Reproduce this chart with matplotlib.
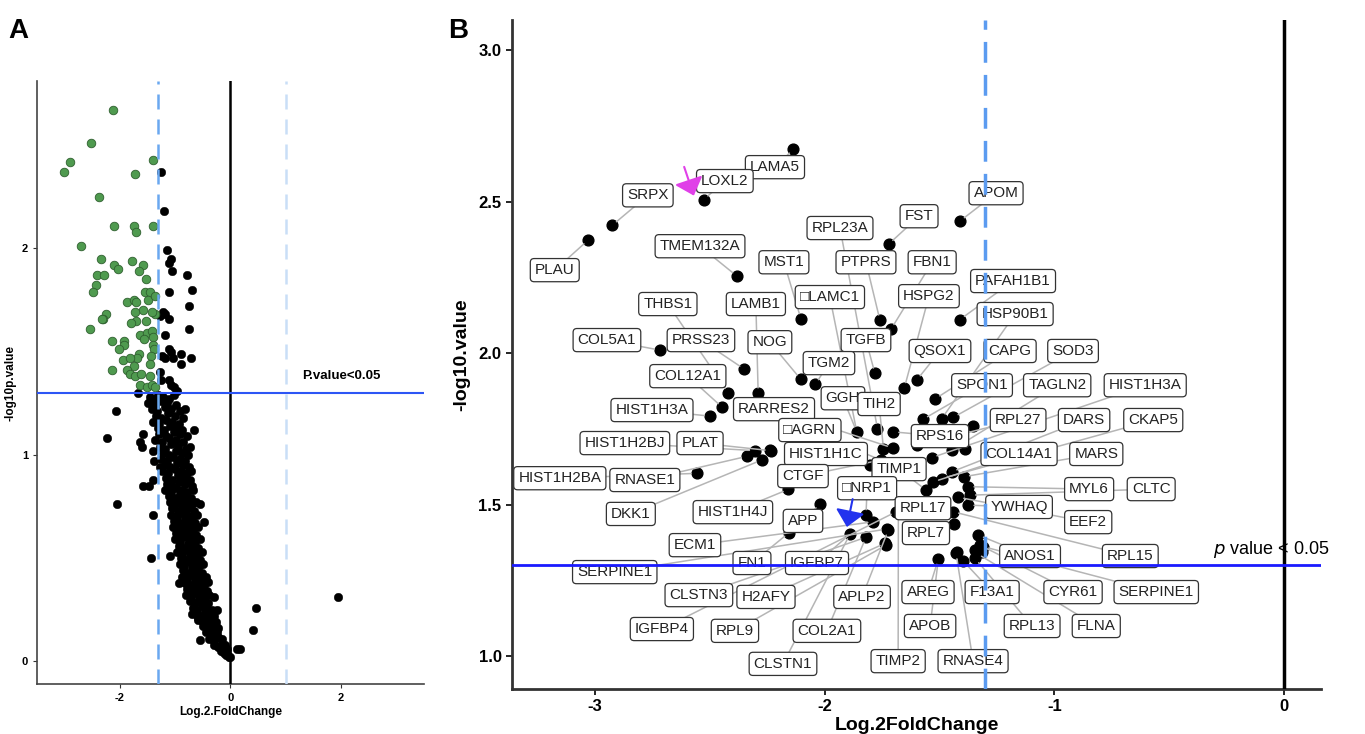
import matplotlib
matplotlib.use("Agg")
import matplotlib.pyplot as plt

plt.rcParams['font.family'] = ['Liberation Sans', 'DejaVu Sans']
plt.rcParams['axes.unicode_minus'] = False

# ---------------- Panel A data ----------------
a_green_x = [-2.12, -2.53, -2.91, -3.02, -1.41, -1.72, -2.37, -2.10, -1.75, -1.71, -1.41, -2.71,
             -2.35, -2.10, -2.04, -1.78, -1.59, -1.65, -2.41, -2.28, -1.52, -2.44, -2.49, -1.55,
             -1.45, -1.50, -1.37, -1.87, -1.75, -1.71, -1.59, -1.37, -1.42, -1.73, -1.71, -2.25,
             -2.30, -2.33, -1.52, -1.80, -2.55, -1.63, -1.51, -1.42, -1.40, -2.15, -1.93, -1.92,
             -1.57, -1.41, -1.38, -2.02, -1.66, -1.70, -1.94, -1.81, -1.75, -1.43, -1.46, -2.15,
             -1.88, -1.81, -1.72, -1.61, -1.46, -1.63, -1.51, -1.42, -1.37]
a_green_y = [2.67, 2.51, 2.42, 2.37, 2.43, 2.36, 2.25, 2.11, 2.11, 2.08, 2.11, 2.01,
             1.95, 1.92, 1.90, 1.94, 1.92, 1.89, 1.87, 1.87, 1.85, 1.82, 1.79, 1.79,
             1.79, 1.75, 1.77, 1.74, 1.75, 1.74, 1.70, 1.68, 1.69, 1.69, 1.65, 1.68,
             1.66, 1.66, 1.65, 1.64, 1.61, 1.58, 1.59, 1.60, 1.57, 1.55, 1.55, 1.53,
             1.56, 1.53, 1.51, 1.51, 1.49, 1.47, 1.46, 1.47, 1.43, 1.48, 1.44, 1.41,
             1.41, 1.39, 1.38, 1.39, 1.38, 1.34, 1.33, 1.34, 1.33]

a_black_x = [-1.25, -1.21, -1.15, -1.08, -1.12, -1.05, -0.79, -0.69, -1.12, -0.75, -1.22, -1.27,
             -1.12, -1.19, -0.75, -1.19, -1.12, -1.07, -1.24, -1.18, -1.04, -0.90, -0.72, -0.90,
             -1.28, -1.25, -1.12, -1.07, -1.03, -0.96, -1.68,
             -2.07, -2.23, -2.05, -1.43, -1.40, -1.59, -1.48, 1.95, 0.47, 0.41, 0.17, 0.11, 0.00,
             -0.55, -1.10, -0.93, -1.58, -1.64, -1.60, -1.41, -1.39, -1.40, -1.27, -0.66, -0.55,
             -0.48, -0.41, -0.29, -0.25, -0.23, -0.30, -0.69, -0.59, -0.36, -0.21, -0.12, -0.06,
             -0.45,
             -1.45, -1.38, -1.31, -1.22, -1.11, -1.02,
             -1.50, -1.36, -1.26, -1.14, -0.98,
             -1.42, -1.33, -1.19, -1.07, -0.91, -0.83,
             -1.35, -1.25, -1.13, -1.01, -0.86,
             -1.40, -1.29, -1.17, -1.05, -0.94,
             -1.32, -1.21, -1.09, -0.97, -0.87,
             -1.30, -1.16, -1.03, -0.91, -0.79,
             -1.36, -1.23, -1.11, -0.99, -0.85,
             -1.28, -1.18, -1.07, -0.95, -0.81, -0.73,
             -1.22, -1.11, -0.99, -0.88, -0.77,
             -1.26, -1.15, -1.04, -0.92, -0.83,
             -1.19, -1.09, -0.96, -0.86, -0.75,
             -1.24, -1.13, -1.01, -0.90, -0.79, -0.71,
             -1.17, -1.06, -0.95, -0.85, -0.74,
             -1.15, -1.05, -0.93, -0.82, -0.70,
             -1.19, -1.08, -0.99, -0.87, -0.78, -0.67,
             -1.12, -1.01, -0.92, -0.81, -0.72,
             -1.10, -1.00, -0.89, -0.80, -0.69, -0.62,
             -1.06, -0.95, -0.87, -0.76, -0.66,
             -1.08, -0.97, -0.88, -0.79, -0.70, -0.60,
             -1.02, -0.93, -0.83, -0.74, -0.64,
             -1.04, -0.94, -0.86, -0.77, -0.67, -0.58,
             -0.98, -0.89, -0.81, -0.72, -0.62,
             -1.00, -0.91, -0.83, -0.73, -0.65, -0.55,
             -0.94, -0.86, -0.76, -0.68, -0.58,
             -0.96, -0.87, -0.79, -0.70, -0.61, -0.52,
             -0.90, -0.81, -0.73, -0.64, -0.55,
             -0.92, -0.84, -0.74, -0.66, -0.57, -0.49,
             -0.86, -0.77, -0.69, -0.60, -0.51,
             -0.88, -0.79, -0.71, -0.62, -0.53, -0.45,
             -0.83, -0.74, -0.65, -0.56, -0.47,
             -0.78, -0.69, -0.61, -0.52, -0.43,
             -0.80, -0.71, -0.63, -0.55, -0.46, -0.38,
             -0.74, -0.65, -0.57, -0.48, -0.40,
             -0.68, -0.60, -0.52, -0.44, -0.34,
             -0.62, -0.54, -0.46, -0.38, -0.30,
             -0.58, -0.50, -0.42, -0.34, -0.27,
             -0.50, -0.42, -0.35, -0.28,
             -0.44, -0.36, -0.30, -0.24,
             -0.38, -0.30, -0.22, -0.16,
             -0.30, -0.22, -0.15, -0.10,
             -0.18, -0.12, -0.07,
             -0.08, -0.03]
a_black_y = [2.37, 2.18, 1.99, 1.95, 1.93, 1.89, 1.87, 1.80, 1.79, 1.72, 1.69, 1.67,
             1.66, 1.68, 1.61, 1.58, 1.51, 1.50, 1.48, 1.47, 1.47, 1.49, 1.47, 1.44,
             1.40, 1.36, 1.36, 1.34, 1.33, 1.31, 1.30,
             1.21, 1.08, 0.76, 0.50, 0.71, 0.85, 0.85, 0.31, 0.26, 0.15, 0.06, 0.06, 0.02,
             0.105, 0.51, 0.38, 1.10, 1.06, 1.04, 1.02, 0.97, 0.88, 0.94, 1.12, 0.76,
             0.675, 0.385, 0.31, 0.25, 0.16, 0.12, 0.23, 0.21, 0.115, 0.07, 0.045, 0.035,
             0.20,
             1.28, 1.27, 1.29, 1.28, 1.27, 1.29,
             1.25, 1.24, 1.26, 1.25, 1.24,
             1.22, 1.21, 1.23, 1.22, 1.21, 1.22,
             1.19, 1.18, 1.20, 1.19, 1.18,
             1.16, 1.15, 1.17, 1.16, 1.15,
             1.13, 1.12, 1.14, 1.13, 1.12,
             1.10, 1.09, 1.11, 1.10, 1.09,
             1.07, 1.06, 1.08, 1.07, 1.06,
             1.04, 1.03, 1.05, 1.04, 1.03, 1.04,
             1.01, 1.00, 1.02, 1.01, 1.00,
             0.98, 0.97, 0.99, 0.98, 0.97,
             0.95, 0.94, 0.96, 0.95, 0.94,
             0.92, 0.91, 0.93, 0.92, 0.91, 0.92,
             0.89, 0.88, 0.90, 0.89, 0.88,
             0.86, 0.85, 0.87, 0.86, 0.85,
             0.83, 0.82, 0.84, 0.83, 0.82, 0.83,
             0.80, 0.79, 0.81, 0.80, 0.79,
             0.77, 0.76, 0.78, 0.77, 0.76, 0.77,
             0.74, 0.73, 0.75, 0.74, 0.73,
             0.71, 0.70, 0.72, 0.71, 0.70, 0.71,
             0.68, 0.67, 0.69, 0.68, 0.67,
             0.65, 0.64, 0.66, 0.65, 0.64, 0.65,
             0.62, 0.61, 0.63, 0.62, 0.61,
             0.59, 0.58, 0.60, 0.59, 0.58, 0.59,
             0.56, 0.55, 0.57, 0.56, 0.55,
             0.53, 0.52, 0.54, 0.53, 0.52, 0.53,
             0.50, 0.49, 0.51, 0.50, 0.49,
             0.47, 0.46, 0.48, 0.47, 0.46, 0.47,
             0.44, 0.43, 0.45, 0.44, 0.43,
             0.41, 0.40, 0.42, 0.41, 0.40, 0.41,
             0.38, 0.37, 0.39, 0.38, 0.37,
             0.35, 0.34, 0.36, 0.35, 0.34,
             0.32, 0.31, 0.33, 0.32, 0.31, 0.32,
             0.29, 0.28, 0.30, 0.29, 0.28,
             0.26, 0.25, 0.27, 0.26, 0.25,
             0.23, 0.22, 0.24, 0.23, 0.22,
             0.20, 0.19, 0.21, 0.20, 0.19,
             0.17, 0.16, 0.18, 0.17,
             0.14, 0.13, 0.15, 0.14,
             0.11, 0.10, 0.12, 0.11,
             0.08, 0.07, 0.09, 0.08,
             0.05, 0.04, 0.06,
             0.03, 0.02]

a_xticks = [-2, 0, 2]
a_yticks = [0, 1, 2]

# ---------------- Panel B data ----------------
b_x = [-3.029, -2.924, -2.526, -2.136, -2.381, -2.103, -1.759, -1.711, -1.721, -1.411, -1.411,
       -2.717, -2.349, -2.104, -2.040, -1.781, -2.419, -2.289, -2.445, -2.500, -1.599, -1.653,
       -1.519, -1.573, -1.490, -1.440, -1.353, -1.860, -1.770, -1.701, -1.447, -1.389, -1.534,
       -1.599, -2.238, -2.274, -2.303, -2.339, -2.557, -1.744, -1.704, -1.756, -1.802, -1.447,
       -1.490, -1.527, -1.393, -1.374, -1.367, -1.374, -1.559, -1.418, -2.158, -2.020, -1.820,
       -1.788, -1.730, -1.889, -1.820, -1.737, -1.679, -1.435, -1.331, -1.324, -1.345, -1.316,
       -1.425, -1.505, -1.396, -2.155, -1.440, -1.689, -1.723, -1.309, -1.345, -1.338, -1.428,
       -2.235, -1.733]
b_y = [2.373, 2.422, 2.507, 2.673, 2.254, 2.113, 2.108, 2.079, 2.360, 2.436, 2.111,
       2.010, 1.947, 1.914, 1.897, 1.933, 1.869, 1.867, 1.821, 1.792, 1.911, 1.885,
       1.849, 1.781, 1.784, 1.788, 1.760, 1.740, 1.751, 1.740, 1.680, 1.685, 1.655,
       1.696, 1.680, 1.647, 1.678, 1.659, 1.603, 1.685, 1.687, 1.647, 1.630, 1.608,
       1.586, 1.575, 1.592, 1.559, 1.531, 1.498, 1.548, 1.524, 1.550, 1.502, 1.465,
       1.443, 1.419, 1.403, 1.392, 1.372, 1.476, 1.436, 1.399, 1.366, 1.350, 1.344,
       1.344, 1.320, 1.313, 1.407, 1.476, 1.476, 1.416, 1.361, 1.322, 1.339, 1.339,
       1.678, 1.366]

b_labels = ["LAMA5", "LOXL2", "SRPX", "PLAU", "APOM", "FST", "RPL23A", "TMEM132A", "MST1",
            "PTPRS", "FBN1", "PAFAH1B1", "HSPG2", "\u25a1LAMC1", "LAMB1", "THBS1", "HSP90B1",
            "TGFB", "COL5A1", "PRSS23", "NOG", "QSOX1", "CAPG", "SOD3", "TGM2", "COL12A1",
            "SPON1", "TAGLN2", "HIST1H3A", "GGH", "TIH2", "RARRES2", "HIST1H3A", "RPL27",
            "DARS", "CKAP5", "RPS16", "\u25a1AGRN", "HIST1H2BJ", "PLAT", "HIST1H1C", "COL14A1",
            "MARS", "TIMP1", "HIST1H2BA", "RNASE1", "CTGF", "\u25a1NRP1", "MYL6", "CLTC",
            "RPL17", "YWHAQ", "DKK1", "HIST1H4J", "APP", "EEF2", "RPL7", "ECM1", "ANOS1",
            "RPL15", "SERPINE1", "FN1", "IGFBP7", "AREG", "F13A1", "CYR61", "SERPINE1",
            "CLSTN3", "H2AFY", "APLP2", "IGFBP4", "RPL9", "COL2A1", "APOB", "RPL13", "FLNA",
            "CLSTN1", "TIMP2", "RNASE4"]
b_label_x = [-2.216, -2.434, -2.769, -3.174, -1.254, -1.589, -1.933, -2.542, -2.177,
             -1.820, -1.532, -1.180, -1.546, -1.977, -2.299, -2.682, -1.171,
             -1.820, -2.947, -2.538, -2.238, -1.498, -1.193, -0.919, -1.981, -2.595,
             -1.315, -0.988, -0.605, -1.920, -1.763, -2.220, -2.751, -1.158,
             -0.871, -0.570, -1.498, -2.064, -2.869, -2.542, -1.994, -1.154,
             -0.818, -1.676, -3.152, -2.782, -2.094, -1.815, -0.849, -0.579,
             -1.572, -1.154, -2.843, -2.399, -2.094, -0.853, -1.559, -2.564, -1.106,
             -0.670, -2.913, -2.316, -2.033, -1.550, -1.271, -0.919, -0.557,
             -2.547, -2.255, -1.837, -2.708, -2.390, -1.990, -1.541, -1.097, -0.818,
             -2.181, -1.680, -1.354]
b_label_y = [2.614, 2.568, 2.521, 2.274, 2.528, 2.452, 2.413, 2.353, 2.300,
             2.300, 2.300, 2.238, 2.188, 2.185, 2.162, 2.162, 2.129,
             2.043, 2.043, 2.043, 2.036, 2.007, 2.007, 2.007, 1.967, 1.924,
             1.894, 1.894, 1.894, 1.851, 1.832, 1.815, 1.812, 1.779,
             1.779, 1.779, 1.726, 1.746, 1.703, 1.703, 1.667, 1.667,
             1.667, 1.617, 1.587, 1.581, 1.594, 1.554, 1.551, 1.551,
             1.488, 1.492, 1.469, 1.475, 1.446, 1.442, 1.406, 1.366, 1.330,
             1.330, 1.277, 1.307, 1.307, 1.211, 1.211, 1.211, 1.211,
             1.201, 1.195, 1.195, 1.089, 1.083, 1.083, 1.099, 1.099, 1.099,
             0.974, 0.983, 0.983]
# point each label refers to
b_target_x = [-2.136, -2.526, -2.924, -3.029, -1.411, -1.721, -1.770, -2.381, -2.103,
              -1.759, -1.711, -1.411, -1.653, -1.860, -2.289, -2.419, -1.490,
              -1.781, -2.717, -2.349, -2.104, -1.599, -1.519, -1.440, -2.040, -2.445,
              -1.573, -1.447, -1.534, -1.860, -1.744, -1.704, -2.500, -1.599,
              -1.447, -1.490, -1.701, -1.756, -2.303, -2.235, -1.802, -1.527,
              -1.393, -1.559, -2.557, -2.339, -1.756, -1.820, -1.374, -1.367,
              -1.679, -1.374, -2.274, -2.158, -2.020, -1.418, -1.435, -1.788, -1.331,
              -1.440, -1.730, -2.155, -1.889, -1.505, -1.396, -1.324, -1.309,
              -1.820, -1.737, -1.723, -1.689, -1.733, -1.820, -1.505, -1.345, -1.338,
              -1.889, -1.679, -1.428]
b_target_y = [2.673, 2.507, 2.422, 2.373, 2.436, 2.360, 1.751, 2.254, 2.113,
              2.108, 2.079, 2.111, 1.885, 1.740, 1.867, 1.869, 1.784,
              1.933, 2.010, 1.947, 1.914, 1.911, 1.849, 1.788, 1.897, 1.821,
              1.781, 1.680, 1.655, 1.740, 1.685, 1.687, 1.792, 1.696,
              1.608, 1.586, 1.740, 1.647, 1.678, 1.678, 1.630, 1.575,
              1.592, 1.548, 1.603, 1.659, 1.647, 1.465, 1.559, 1.531,
              1.476, 1.498, 1.647, 1.550, 1.502, 1.524, 1.436, 1.443, 1.399,
              1.476, 1.419, 1.407, 1.403, 1.320, 1.313, 1.366, 1.361,
              1.392, 1.372, 1.416, 1.476, 1.366, 1.392, 1.320, 1.322, 1.339,
              1.403, 1.476, 1.339]

b_xticks = [-3, -2, -1, 0]
b_yticks = [1.0, 1.5, 2.0, 2.5, 3.0]

P_LINE = 1.30103   # -log10(0.05)

fig = plt.figure(figsize=(13.65, 7.34), dpi=100)

# ---------------- Panel A ----------------
axA = fig.add_axes([0.0271, 0.0681, 0.2835, 0.8215])
axA.scatter(a_black_x, a_black_y, s=38, c='black', edgecolors='black', linewidths=0.3, zorder=2)
axA.scatter(a_green_x, a_green_y, s=38, c='#4f9a4f', edgecolors='#2f5f2f', linewidths=0.6, zorder=3)
axA.axvline(-1.32, color='#6aa8f0', lw=1.8, ls=(0, (6, 4)), zorder=4)
axA.axvline(1.0, color='#c9def7', lw=1.8, ls=(0, (6, 4)), zorder=4)
axA.axvline(0, color='black', lw=1.8, zorder=4)
axA.axhline(P_LINE, color='#2d55f5', lw=1.5, zorder=5)
axA.text(1.3, P_LINE + 0.05, "P.value<0.05", fontsize=9.5, fontweight='bold', ha='left', va='bottom')
axA.set_xlim(-3.5, 3.5)
axA.set_ylim(-0.11, 2.81)
axA.set_xticks(a_xticks)
axA.set_yticks(a_yticks)
axA.tick_params(labelsize=8, length=3, width=0.8, colors='#333333')
for lab in axA.get_xticklabels() + axA.get_yticklabels():
    lab.set_fontweight('bold')
    lab.set_color('black')
axA.spines['top'].set_visible(False)
axA.spines['right'].set_visible(False)
for sp in ['left', 'bottom']:
    axA.spines[sp].set_linewidth(1.2)
    axA.spines[sp].set_color('#444444')
axA.set_xlabel("Log.2.FoldChange", fontsize=8.5, fontweight='bold', labelpad=2)
axA.set_ylabel("-log10p.value", fontsize=8.5, fontweight='bold', labelpad=4)

# ---------------- Panel B ----------------
axB = fig.add_axes([0.3751, 0.0613, 0.5927, 0.9115])
axB.scatter(b_x, b_y, s=60, c='black', zorder=2)
for lx, ly, tx, ty in zip(b_label_x, b_label_y, b_target_x, b_target_y):
    axB.annotate('', xy=(tx, ty), xytext=(lx, ly),
                 arrowprops=dict(arrowstyle='-', color='#b5b5b5', lw=1.1, shrinkA=0, shrinkB=4),
                 zorder=3)
for txt, lx, ly in zip(b_labels, b_label_x, b_label_y):
    axB.text(lx, ly, txt, fontsize=11, ha='center', va='center', color='#222222', zorder=4,
             bbox=dict(boxstyle='round,pad=0.3,rounding_size=0.25', fc='white', ec='#333333', lw=0.9))

axB.axvline(-1.30, color='#5b9bf0', lw=2.5, ls=(0, (6, 3.5)), zorder=5)
axB.axvline(0, color='black', lw=2.5, zorder=5)
axB.axhline(P_LINE, color='#1a1aff', lw=2, zorder=5)
axB.text(-0.31, P_LINE + 0.015, r"$\it{p}$ value < 0.05", fontsize=13, ha='left', va='bottom', zorder=4)

# arrows
axB.annotate('', xy=(-2.569, 2.520), xytext=(-2.611, 2.615),
             arrowprops=dict(arrowstyle='-|>,head_length=0.5,head_width=0.45', color='#e040e8',
                             lw=1.5, mutation_scale=20, shrinkA=0, shrinkB=0), zorder=6)
axB.annotate('', xy=(-1.903, 1.426), xytext=(-1.878, 1.518),
             arrowprops=dict(arrowstyle='-|>,head_length=0.5,head_width=0.45', color='#2233ee',
                             lw=1.5, mutation_scale=20, shrinkA=0, shrinkB=0), zorder=6)

axB.set_xlim(-3.36, 0.16)
axB.set_ylim(0.891, 3.10)
axB.set_xticks(b_xticks)
axB.set_yticks(b_yticks)
axB.set_yticklabels([f"{v:.1f}" for v in b_yticks])
axB.tick_params(labelsize=12, length=4, width=1.2)
for lab in axB.get_xticklabels() + axB.get_yticklabels():
    lab.set_fontweight('bold')
axB.spines['top'].set_visible(False)
axB.spines['right'].set_visible(False)
for sp in ['left', 'bottom']:
    axB.spines[sp].set_linewidth(2)
    axB.spines[sp].set_color('#333333')
axB.set_xlabel("Log.2FoldChange", fontsize=14, fontweight='bold', labelpad=2)
axB.set_ylabel("-log10.value", fontsize=14, fontweight='bold', labelpad=6)

fig.text(0.006, 0.975, "A", fontsize=20, fontweight='bold', ha='left', va='top')
fig.text(0.328, 0.975, "B", fontsize=20, fontweight='bold', ha='left', va='top')

fig.savefig("out.png", dpi=100)
